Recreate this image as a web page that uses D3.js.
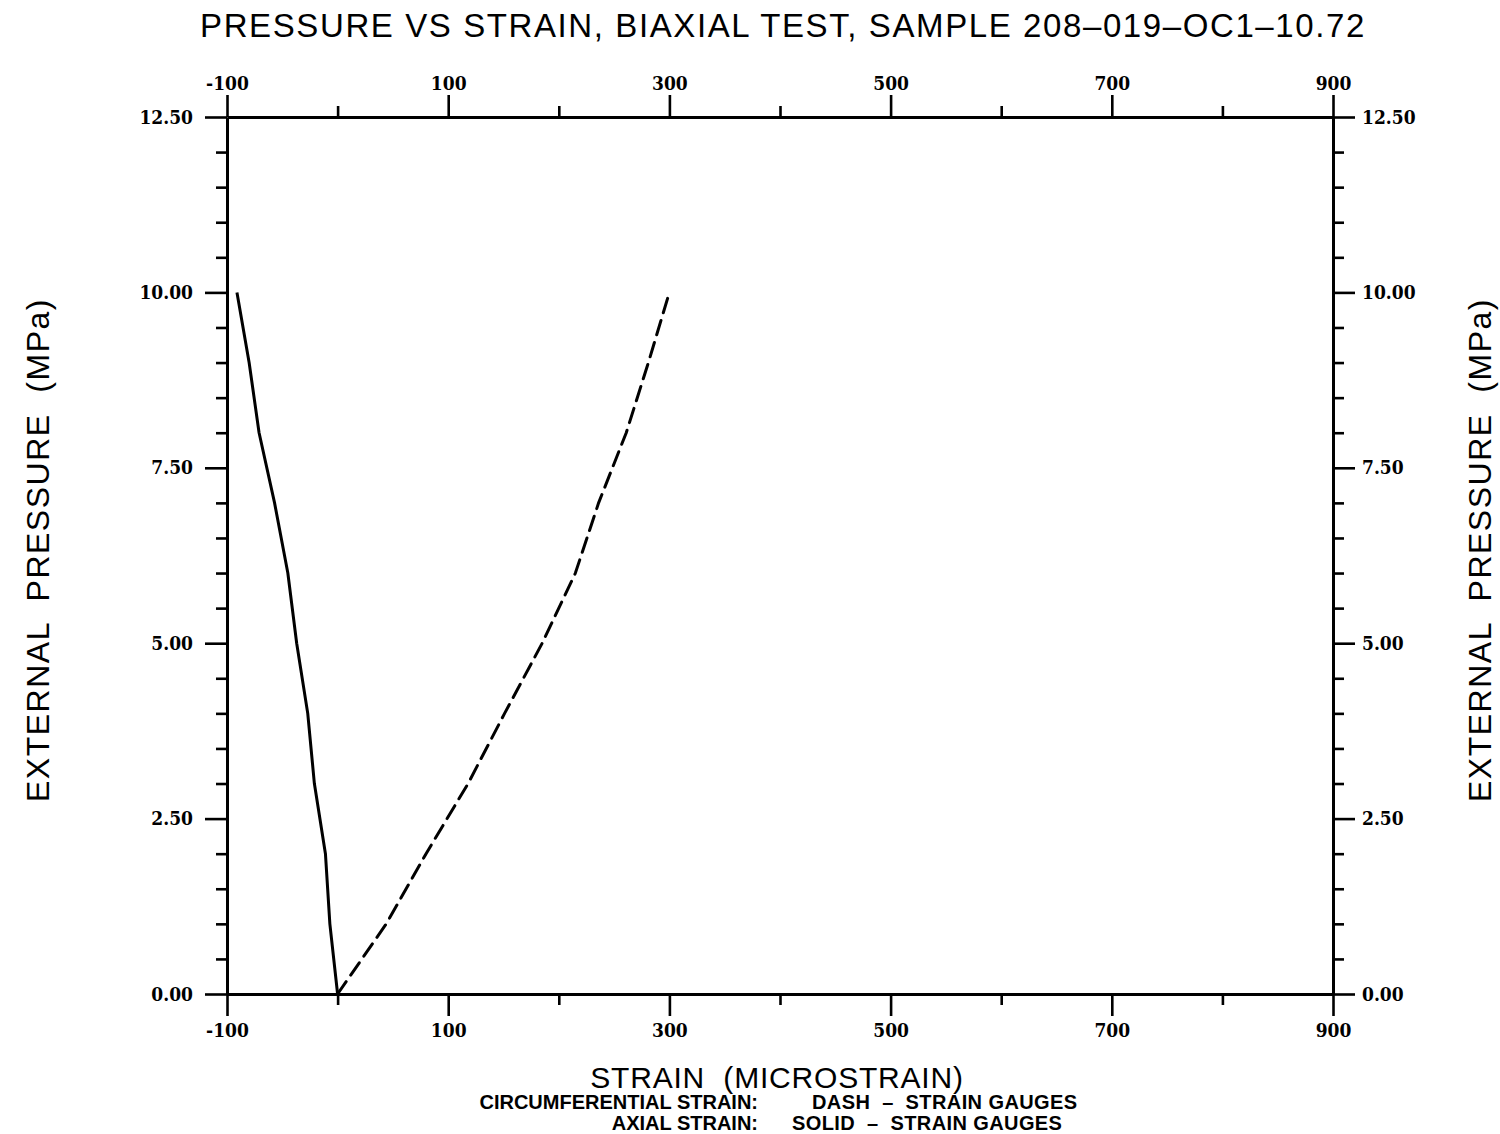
<!DOCTYPE html>
<html>
<head>
<meta charset="utf-8">
<script src="https://cdn.jsdelivr.net/npm/d3@7"></script>
<style>
  html, body { margin: 0; padding: 0; background: #fff; }
  svg { display: block; }
  .tick text { font-family: "DejaVu Serif Condensed", "DejaVu Serif", serif; font-stretch: condensed; font-weight: bold; font-size: 19px; fill: #000; }
  .axis path, .axis line { stroke: #000; }
</style>
</head>
<body>
<svg id="chart" width="1500" height="1134"></svg>
<script>
// Pressure levels (MPa) at which both gauges were read
const pressure = [0, 1, 2, 3, 4, 5, 6, 7, 8, 9, 10];
// Circumferential strain (microstrain), drawn dashed
const circumferential = [0, 44, 80, 118, 151, 185, 215, 236, 261, 281, 300];
// Axial strain (microstrain), drawn solid
const axial = [0, -7, -11, -21, -27, -37, -45, -57, -71, -80, -91];

// Axis tick values
const xMajorTicks = [-100, 100, 300, 500, 700, 900];
const xMinorTicks = [0, 200, 400, 600, 800];
const yMajorTicks = [0, 2.5, 5, 7.5, 10, 12.5];
const yMinorTicks = [0.5, 1, 1.5, 2, 3, 3.5, 4, 4.5, 5.5, 6, 6.5, 7, 8, 8.5, 9, 9.5, 10.5, 11, 11.5, 12];

const titleText = "PRESSURE VS STRAIN, BIAXIAL TEST, SAMPLE 208\u2013019\u2013OC1\u201310.72";
const yLabelText = "EXTERNAL  PRESSURE  (MPa)";
const xLabelText = "STRAIN  (MICROSTRAIN)";

const svg = d3.select("#chart");
const plotLeft = 227, plotRight = 1333, plotTop = 117, plotBottom = 994;

const x = d3.scaleLinear().domain([-100, 900]).range([plotLeft, plotRight]);
const y = d3.scaleLinear().domain([0, 12.5]).range([plotBottom, plotTop]);

const fmtY = d3.format(".2f");
const fmtX = v => String(v); // plain hyphen for negatives

function styleAxis(g) {
  g.attr("class", "axis");
  g.select(".domain").attr("stroke-width", 3);
  g.selectAll(".tick line").attr("stroke-width", 2.6);
}
function minorAxis(g) {
  styleAxis(g);
  g.select(".domain").remove();
}

// Bottom axis
svg.append("g").attr("transform", `translate(0,${plotBottom})`)
  .call(d3.axisBottom(x).tickValues(xMinorTicks).tickSize(11).tickSizeOuter(0).tickFormat(""))
  .call(minorAxis);
svg.append("g").attr("transform", `translate(0,${plotBottom})`)
  .call(d3.axisBottom(x).tickValues(xMajorTicks).tickSize(22).tickSizeOuter(0).tickPadding(8).tickFormat(fmtX))
  .call(styleAxis);

// Top axis
svg.append("g").attr("transform", `translate(0,${plotTop})`)
  .call(d3.axisTop(x).tickValues(xMinorTicks).tickSize(11).tickSizeOuter(0).tickFormat(""))
  .call(minorAxis);
svg.append("g").attr("transform", `translate(0,${plotTop})`)
  .call(d3.axisTop(x).tickValues(xMajorTicks).tickSize(22).tickSizeOuter(0).tickPadding(5).tickFormat(fmtX))
  .call(styleAxis);

// Left axis
svg.append("g").attr("transform", `translate(${plotLeft},0)`)
  .call(d3.axisLeft(y).tickValues(yMinorTicks).tickSize(11).tickSizeOuter(0).tickFormat(""))
  .call(minorAxis);
svg.append("g").attr("transform", `translate(${plotLeft},0)`)
  .call(d3.axisLeft(y).tickValues(yMajorTicks).tickSize(22).tickSizeOuter(0).tickPadding(12).tickFormat(fmtY))
  .call(styleAxis);

// Right axis
svg.append("g").attr("transform", `translate(${plotRight},0)`)
  .call(d3.axisRight(y).tickValues(yMinorTicks).tickSize(11).tickSizeOuter(0).tickFormat(""))
  .call(minorAxis);
svg.append("g").attr("transform", `translate(${plotRight},0)`)
  .call(d3.axisRight(y).tickValues(yMajorTicks).tickSize(22).tickSizeOuter(0).tickPadding(7).tickFormat(fmtY))
  .call(styleAxis);

// Strain curves
const line = d3.line().x(d => x(d[0])).y(d => y(d[1]));

svg.append("path")
  .datum(axial.map((v, i) => [v, pressure[i]]))
  .attr("d", line)
  .attr("fill", "none")
  .attr("stroke", "#000")
  .attr("stroke-width", 3)
  .attr("stroke-linejoin", "round");

svg.append("path")
  .datum(circumferential.map((v, i) => [v, pressure[i]]))
  .attr("d", line)
  .attr("fill", "none")
  .attr("stroke", "#000")
  .attr("stroke-width", 3)
  .attr("stroke-dasharray", "15,8")
  .attr("stroke-linecap", "round");

// Titles and labels
const sans = "'Liberation Sans', Arial, sans-serif";

svg.append("text")
  .attr("x", 783).attr("y", 37)
  .attr("text-anchor", "middle")
  .attr("font-family", sans).attr("font-size", 33)
  .attr("letter-spacing", 1.6)
  .text(titleText);

[38, 1480].forEach(cx => {
  svg.append("text")
    .attr("transform", `translate(${cx + 11},550) rotate(-90)`)
    .attr("text-anchor", "middle")
    .attr("font-family", sans).attr("font-size", 32)
    .attr("letter-spacing", 1.5)
    .style("white-space", "pre")
    .text(yLabelText);
});

svg.append("text")
  .attr("x", 777).attr("y", 1088)
  .attr("text-anchor", "middle")
  .attr("font-family", sans).attr("font-size", 30)
  .attr("letter-spacing", 0.8)
  .style("white-space", "pre")
  .text(xLabelText);

const legend = [
  { key: "CIRCUMFERENTIAL STRAIN:", desc: "DASH  \u2013  STRAIN GAUGES", y: 1109, dx: 812 },
  { key: "AXIAL STRAIN:", desc: "SOLID  \u2013  STRAIN GAUGES", y: 1130, dx: 792 }
];
legend.forEach(d => {
  svg.append("text")
    .attr("x", 758).attr("y", d.y)
    .attr("text-anchor", "end")
    .attr("font-family", sans).attr("font-weight", "bold").attr("font-size", 20)
    .text(d.key);
  svg.append("text")
    .attr("x", d.dx).attr("y", d.y)
    .attr("font-family", sans).attr("font-weight", "bold").attr("font-size", 20)
    .attr("letter-spacing", 0.4)
    .style("white-space", "pre")
    .text(d.desc);
});
</script>
</body>
</html>
